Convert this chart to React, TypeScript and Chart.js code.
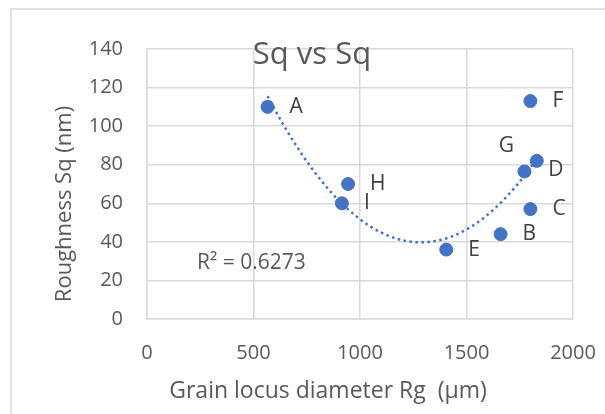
import React, { useEffect, useRef } from "react";
import { Chart, registerables } from "chart.js";

Chart.register(...registerables);

// ---- data ----
const pointNames = ["A", "B", "C", "D", "E", "F", "G", "H", "I"];
const grainDiameter = [566, 1660, 1800, 1830, 1405, 1800, 1772, 944, 915];
const roughnessSq = [110, 44, 57, 82, 36, 113, 76.5, 70, 60];
const xTickValues = [0, 500, 1000, 1500, 2000];
const yTickValues = [0, 20, 40, 60, 80, 100, 120, 140];
const chartTitle = "Sq vs Sq";
const xAxisTitle = "Grain locus diameter Rg  (µm)";
const yAxisTitle = "Roughness Sq (nm)";
const r2Text = "R² = 0.6273";

const FONT = "'Open Sans', sans-serif";
const TEXT = "#595959";
const BLUE = "#4472C4";
const GRID = "#d9d9d9";

// least-squares quadratic (Excel polynomial trendline, order 2)
function quadFit(xs: number[], ys: number[]) {
  const n = xs.length;
  let s1 = 0, s2 = 0, s3 = 0, s4 = 0, t0 = 0, t1 = 0, t2 = 0;
  for (let i = 0; i < n; i++) {
    const x = xs[i], y = ys[i];
    s1 += x; s2 += x * x; s3 += x * x * x; s4 += x * x * x * x;
    t0 += y; t1 += x * y; t2 += x * x * y;
  }
  const M = [
    [n, s1, s2, t0],
    [s1, s2, s3, t1],
    [s2, s3, s4, t2],
  ];
  for (let c = 0; c < 3; c++) {
    let p = c;
    for (let r = c + 1; r < 3; r++) if (Math.abs(M[r][c]) > Math.abs(M[p][c])) p = r;
    [M[c], M[p]] = [M[p], M[c]];
    for (let r = 0; r < 3; r++) {
      if (r === c) continue;
      const f = M[r][c] / M[c][c];
      for (let k = c; k < 4; k++) M[r][k] -= f * M[c][k];
    }
  }
  return [M[0][3] / M[0][0], M[1][3] / M[1][1], M[2][3] / M[2][2]];
}

// label placement style per point (dx, dy from the marker, align)
const labelPlacement: Record<string, { dx: number; dy: number; align: CanvasTextAlign }> = {
  G: { dx: -18, dy: -25, align: "center" },
  D: { dx: 19, dy: 9, align: "center" },
};

export default function App() {
  const ref = useRef<HTMLCanvasElement | null>(null);

  useEffect(() => {
    if (!ref.current) return;
    const pts = grainDiameter.map((x, i) => ({ x, y: roughnessSq[i] }));
    const [c0, c1, c2] = quadFit(grainDiameter, roughnessSq);
    const xmin = Math.min(...grainDiameter);
    const xmax = Math.max(...grainDiameter);
    const trend: { x: number; y: number }[] = [];
    const steps = 80;
    for (let i = 0; i <= steps; i++) {
      const x = xmin + ((xmax - xmin) * i) / steps;
      trend.push({ x, y: c0 + c1 * x + c2 * x * x });
    }

    const decor = {
      id: "decor",
      beforeDraw(chart: any) {
        const { ctx } = chart;
        ctx.save();
        ctx.fillStyle = "#ffffff";
        ctx.fillRect(0, 0, chart.width, chart.height);
        ctx.strokeStyle = "#e2e2e2";
        ctx.lineWidth = 2;
        ctx.strokeRect(11, 9, chart.width + 20, chart.height + 20);
        ctx.restore();
      },
      afterDraw(chart: any) {
        const { ctx } = chart;
        ctx.save();
        ctx.fillStyle = TEXT;
        ctx.textBaseline = "middle";
        // title
        ctx.textAlign = "center";
        ctx.font = `31px ${FONT}`;
        ctx.fillText(chartTitle, 312, 55);
        // axis titles
        ctx.font = `23px ${FONT}`;
        ctx.fillText(xAxisTitle, 328, 391);
        ctx.save();
        ctx.translate(65, 204);
        ctx.rotate(-Math.PI / 2);
        ctx.font = `22px ${FONT}`;
        ctx.fillText(yAxisTitle, 0, 0);
        ctx.restore();
        // R²
        ctx.textAlign = "left";
        ctx.font = `21px ${FONT}`;
        ctx.fillText(r2Text, 197, 263);
        ctx.restore();
      },
      afterDatasetsDraw(chart: any) {
        const { ctx } = chart;
        const meta = chart.getDatasetMeta(1);
        ctx.save();
        ctx.fillStyle = "#404040";
        ctx.font = `21px ${FONT}`;
        ctx.textBaseline = "middle";
        meta.data.forEach((el: any, i: number) => {
          const name = pointNames[i];
          const p = labelPlacement[name];
          if (p) {
            ctx.textAlign = p.align;
            ctx.fillText(name, el.x + p.dx, el.y + p.dy);
          } else {
            ctx.textAlign = "left";
            ctx.fillText(name, el.x + 22, el.y);
          }
        });
        ctx.restore();
      },
    };

    const chart = new Chart(ref.current, {
      type: "scatter",
      data: {
        datasets: [
          {
            label: "Trend",
            data: trend,
            showLine: true,
            borderColor: BLUE,
            borderWidth: 2.5,
            borderDash: [2.5, 3.5],
            pointRadius: 0,
            fill: false,
            order: 0,
          } as any,
          {
            label: "Sq",
            data: pts,
            backgroundColor: BLUE,
            borderColor: BLUE,
            pointRadius: 6.5,
            order: 1,
          },
        ],
      },
      options: {
        animation: false,
        responsive: false,
        devicePixelRatio: 1,
        layout: { padding: { top: 49, right: 32, left: 0, bottom: 0 } },
        plugins: {
          legend: { display: false },
          tooltip: { enabled: false },
          title: { display: false },
        },
        scales: {
          x: {
            type: "linear",
            min: 0,
            max: 2000,
            afterBuildTicks: (s: any) => {
              s.ticks = xTickValues.map((v) => ({ value: v }));
            },
            afterFit: (s: any) => {
              s.height = 95;
              s.paddingLeft = 0;
              s.paddingRight = 0;
            },
            ticks: {
              font: { family: FONT, size: 20 },
              color: TEXT,
              padding: 22,
              maxRotation: 0,
              callback: (v: any) => String(v),
            },
            grid: { color: GRID, drawTicks: false, lineWidth: 1.5 },
            border: { color: GRID, width: 1.5 },
          },
          y: {
            type: "linear",
            min: 0,
            max: 140,
            afterBuildTicks: (s: any) => {
              s.ticks = yTickValues.map((v) => ({ value: v }));
            },
            afterFit: (s: any) => {
              s.width = 147;
              s.paddingTop = 0;
              s.paddingBottom = 0;
            },
            ticks: {
              font: { family: FONT, size: 20 },
              color: TEXT,
              padding: 24,
              callback: (v: any) => String(v),
            },
            grid: { color: GRID, drawTicks: false, lineWidth: 1.5 },
            border: { color: GRID, width: 1.5 },
          },
        },
      },
      plugins: [decor],
    });
    return () => chart.destroy();
  }, []);

  return (
    <div style={{ position: "fixed", left: 0, top: 0, width: 605, height: 414, background: "#fff" }}>
      <canvas ref={ref} width={605} height={414} style={{ width: 605, height: 414, display: "block" }} />
    </div>
  );
}
